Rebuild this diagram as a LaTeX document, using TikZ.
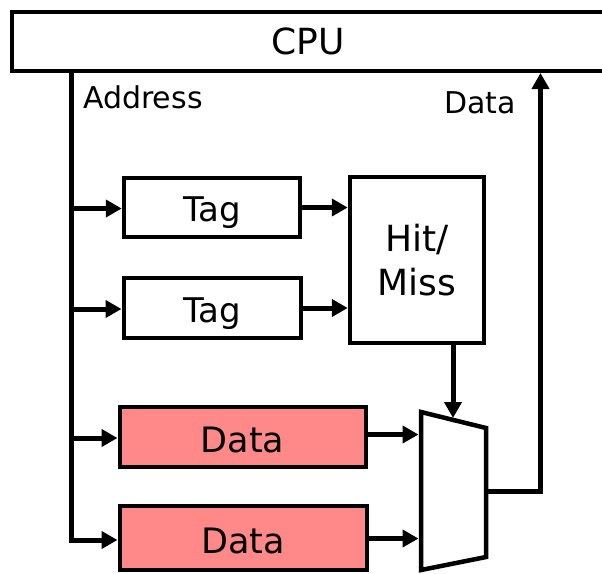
\documentclass[tikz,border=0pt]{standalone}
\usepackage{fontspec}
\setmainfont{DejaVu Sans}
\usetikzlibrary{arrows.meta}
\definecolor{memred}{RGB}{255,136,136}
\begin{document}
\begin{tikzpicture}[x=1pt,y=-1pt,
  box/.style={draw, line width=4pt, rectangle, inner sep=0pt, outer sep=2pt, text depth=0pt},
  tagbox/.style={box, font=\fontsize{34}{40}\selectfont, text height=28.8pt},
  databox/.style={box, fill=memred, font=\fontsize{35}{42}\selectfont, text height=31.5pt},
  arr/.style={line width=5pt, -{Triangle[length=16pt,width=17pt]}},
  lbl/.style={inner sep=0pt, font=\fontsize{30}{36}\selectfont}]
\useasboundingbox (0,0) rectangle (602,573);
\clip (0,0) rectangle (602,573);

% processor
\node[box, minimum width=592pt, minimum height=59pt,
      font=\fontsize{36}{42}\selectfont, text height=26.2pt] (cpu) at (308,41.5) {CPU};

% tag arrays
\node[tagbox, minimum width=176.5pt, minimum height=59pt] (tag1) at (212,207.5) {Tag};
\node[tagbox, minimum width=177pt, minimum height=60pt] (tag2) at (212,308) {Tag};

% hit / miss logic
\node[box, minimum width=134.5pt, minimum height=166pt, align=center,
      font=\fontsize{36}{44}\selectfont] (hm) at (417,260) {Hit/\\Miss};

% data arrays
\node[databox, minimum width=246pt, minimum height=60.5pt] (data1) at (242.5,437) {Data};
\node[databox, minimum width=247pt, minimum height=64pt] (data2) at (243,538) {Data};

% way-select multiplexer
\coordinate (mtl) at (421,412);
\coordinate (mtr) at (486,428);
\coordinate (mbr) at (486,557);
\coordinate (mbl) at (421,570);
\draw[line width=4.5pt, line join=miter] (mtl) -- (mtr) -- (mbr) -- (mbl) -- cycle;
\coordinate (min1) at (418.5,434.5);
\coordinate (min2) at (418.5,538.5);
\coordinate (msel) at (453,418);
\coordinate (mout) at (486,491.5);

% address bus
\coordinate (atop) at (71.5,71);
\coordinate (a1) at (71.5,208.5);
\coordinate (a2) at (71.5,309);
\coordinate (a3) at (71.5,438);
\coordinate (a4) at (71.5,540);
\draw[arr] (atop) -- (a4) -- (a4 -| data2.west);
\draw[arr] (a1) -- (a1 -| tag1.west);
\draw[arr] (a2) -- (a2 -| tag2.west);
\draw[arr] (a3) -- (a3 -| data1.west);

% tag compare
\draw[arr] (tag1.east) -- (tag1.east -| hm.west);
\draw[arr] (tag2.east) -- (tag2.east -| hm.west);

% into the multiplexer
\draw[arr] (data1.east |- min1) -- (min1);
\draw[arr] (data2.east |- min2) -- (min2);
\draw[arr] (hm.south -| msel) -- (msel);

% data return path
\coordinate (dcorner) at (540.5,491.5);
\draw[arr] (mout) -- (dcorner) -- (dcorner |- cpu.south);

% bus labels
\node[lbl, anchor=base west] (addrlbl) at (83,108) {Address};
\node[lbl, anchor=base west] (datalbl) at (444,113) {Data};
\end{tikzpicture}
\end{document}
